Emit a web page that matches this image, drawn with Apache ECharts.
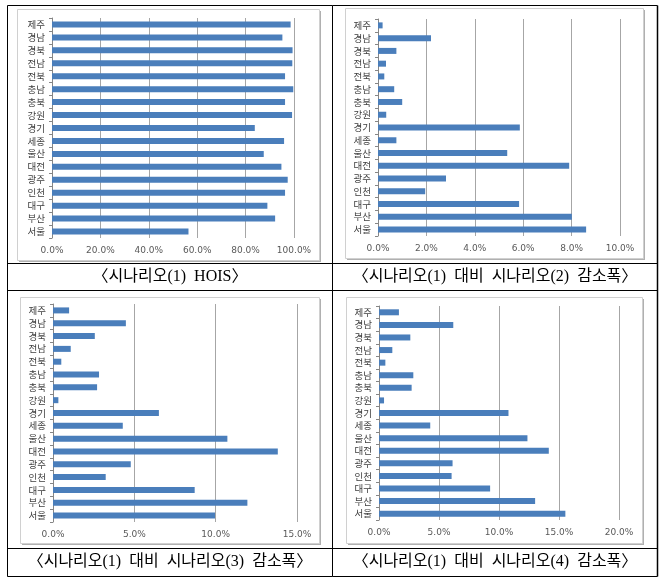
<!DOCTYPE html>
<html><head><meta charset="utf-8">
<script src="https://cdn.jsdelivr.net/npm/echarts@6/dist/echarts.min.js"></script>
<style>html,body{margin:0;padding:0;background:#fff}#c{width:665px;height:581px}</style>
</head><body><div id="c"></div>
<script>
// categories (bottom to top as drawn by a category y axis)
const regions = ['서울','부산','대구','인천','광주','대전','울산','세종','경기','강원','충북','충남','전북','전남','경북','경남','제주'];
// values in percent, same order as regions
const hois = [56.4, 92.2, 89.0, 96.3, 97.4, 94.8, 87.5, 95.9, 83.8, 99.2, 96.3, 99.7, 96.3, 99.3, 99.4, 95.2, 98.6];
const drop2 = [8.60, 8.01, 5.83, 1.95, 2.81, 7.90, 5.34, 0.76, 5.86, 0.34, 1.00, 0.67, 0.26, 0.33, 0.76, 2.19, 0.19];
const drop3 = [9.96, 11.95, 8.71, 3.24, 4.78, 13.82, 10.72, 4.29, 6.51, 0.33, 2.71, 2.83, 0.51, 1.09, 2.57, 4.48, 0.99];
const drop4 = [15.53, 13.01, 9.26, 6.05, 6.13, 14.15, 12.37, 4.27, 10.79, 0.42, 2.72, 2.86, 0.53, 1.11, 2.61, 6.19, 1.66];
// axis ranges
const xMax = [100, 10, 15, 20];
const xStep = [20, 2, 5, 5];
const captions = ['〈시나리오(1)  HOIS〉','〈시나리오(1)  대비  시나리오(2)  감소폭〉','〈시나리오(1)  대비  시나리오(3)  감소폭〉','〈시나리오(1)  대비  시나리오(4)  감소폭〉'];

const allData = [hois, drop2, drop3, drop4];
const grids = [
  {left:52, top:18, width:242, height:220},
  {left:378, top:19, width:242, height:217},
  {left:53, top:304, width:244, height:218},
  {left:379, top:306, width:240, height:214}
];
const boxes = [[17,9,302,251],[345,8,298,250],[20,297,299,246],[346,297,296,246]];
const capPos = [[170,277],[495,277],[170,562],[495,562]];
const chart = echarts.init(document.getElementById('c'));
const catFont = '"Noto Sans CJK KR", sans-serif';
const option = {
  animation:false,
  backgroundColor:'#fff',
  grid: grids,
  xAxis: grids.map((g,i)=>({
    gridIndex:i, type:'value', min:0, max:xMax[i], interval:xStep[i],
    axisLine:{show:false}, axisTick:{show:false},
    splitLine:{show:true, lineStyle:{color:'#a6a6a6', width:1}},
    axisLabel:{margin:8, fontSize:9, color:'#595959', fontFamily:'"DejaVu Sans", sans-serif',
      formatter:v=>v.toFixed(1)+'%'}
  })),
  yAxis: grids.map((g,i)=>({
    gridIndex:i, type:'category', data:regions,
    axisLine:{show:true, lineStyle:{color:'#868686'}},
    axisTick:{show:true, length:3, lineStyle:{color:'#868686'}},
    axisLabel:{interval:0, margin:7, fontSize:9.5, lineHeight:10, color:'#404040', fontFamily:catFont}
  })),
  series: allData.map((d,i)=>({
    type:'bar', xAxisIndex:i, yAxisIndex:i, data:d, barWidth:6,
    itemStyle:{color:'#4a7ebb'}
  })),
  graphic: [
    ...boxes.map(b=>({type:'rect', z:-2, shape:{x:b[0]+2,y:b[1]+2,width:b[2],height:b[3]}, style:{fill:'#b0b0b0'}})),
    ...boxes.map(b=>({type:'rect', z:-1, shape:{x:b[0]+0.5,y:b[1]+0.5,width:b[2],height:b[3]}, style:{fill:'#fff', stroke:'#d0d0d0', lineWidth:1}})),
    // table lines
    {type:'line', z:10, shape:{x1:7.5,y1:5.5,x2:657.5,y2:5.5}, style:{stroke:'#000',lineWidth:1}},
    {type:'line', z:10, shape:{x1:7.5,y1:263.5,x2:657.5,y2:263.5}, style:{stroke:'#000',lineWidth:1}},
    {type:'line', z:10, shape:{x1:7.5,y1:290.5,x2:657.5,y2:290.5}, style:{stroke:'#000',lineWidth:1}},
    {type:'line', z:10, shape:{x1:7.5,y1:548.5,x2:657.5,y2:548.5}, style:{stroke:'#000',lineWidth:1}},
    {type:'line', z:10, shape:{x1:7.5,y1:576.5,x2:657.5,y2:576.5}, style:{stroke:'#000',lineWidth:1}},
    {type:'line', z:10, shape:{x1:7.5,y1:5.5,x2:7.5,y2:576.5}, style:{stroke:'#000',lineWidth:1}},
    {type:'line', z:10, shape:{x1:332.5,y1:5.5,x2:332.5,y2:576.5}, style:{stroke:'#000',lineWidth:1}},
    {type:'line', z:10, shape:{x1:657.5,y1:5.5,x2:657.5,y2:576.5}, style:{stroke:'#000',lineWidth:1.5}},
    ...captions.map((t,i)=>({type:'text', z:10, x:capPos[i][0], y:capPos[i][1],
      style:{text:t, fill:'#000', fontSize:16, fontFamily:'"Liberation Serif", "Noto Sans CJK KR", serif', align:'center', verticalAlign:'middle'}}))
  ]
};
chart.setOption(option);
</script></body></html>
